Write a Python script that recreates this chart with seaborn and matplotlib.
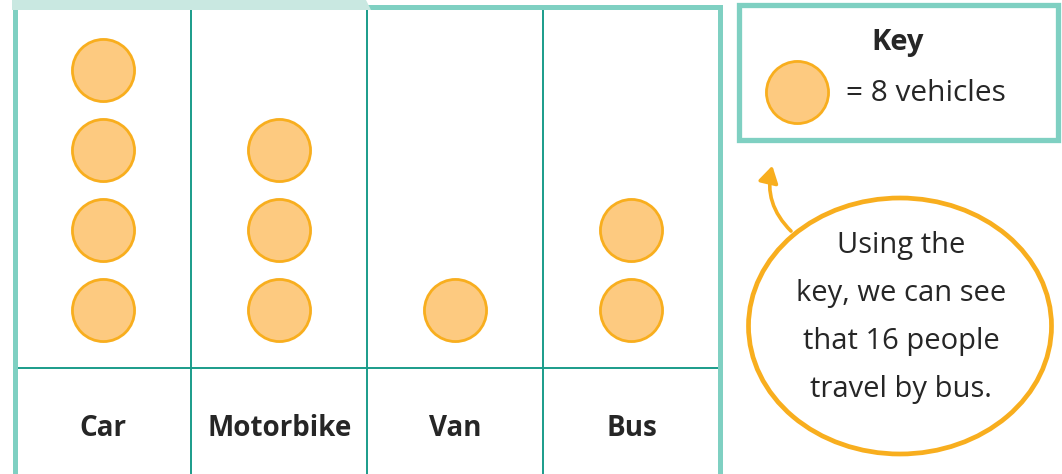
import pandas as pd
import seaborn as sns
import matplotlib.pyplot as plt
from matplotlib.patches import Rectangle, Ellipse, Polygon, FancyArrowPatch

# --- dados do pictograma ---
VEICULOS = ["Car", "Motorbike", "Van", "Bus"]
SIMBOLOS = [4, 3, 1, 2]          # numero de circulos por coluna
VALOR_CHAVE = 8                  # cada circulo = 8 veiculos

# --- cores ---
COR_CIRCULO = "#FDCA80"
COR_BORDA_CIRC = "#F8AE1E"
TEAL_CLARO = "#7FD0C2"
TEAL_ESCURO = "#1A9C8A"
TEAL_ABA = "#C9E8E1"
COR_TEXTO = "#262626"

W, H = 1062, 474

sns.set_style("white")
plt.rcParams["font.family"] = ["Open Sans", "DejaVu Sans"]

fig = plt.figure(figsize=(W / 100, H / 100), dpi=100)

# eixo principal (grade do pictograma), em unidades de "simbolo"
x0, x1 = 15, 719.5
y_top = 7
ax = fig.add_axes([x0 / W, 0, (x1 - x0) / W, (H - y_top) / H])

linhas = []
for v, n in zip(VEICULOS, SIMBOLOS):
    for i in range(n):
        linhas.append({"veiculo": v, "linha": i})
df = pd.DataFrame(linhas)
df["veiculo"] = pd.Categorical(df["veiculo"], categories=VEICULOS, ordered=True)

sns.scatterplot(data=df, x="veiculo", y="linha", s=2000, color=COR_CIRCULO,
                edgecolor=COR_BORDA_CIRC, linewidth=2.0, legend=False, ax=ax, zorder=3)

ax.set_xlim(-0.5, len(VEICULOS) - 0.5)
ax.set_ylim((310 - H) / 80, (310 - y_top) / 80)
ax.set_xticks([])
ax.set_yticks([])
ax.set_xlabel("")
ax.set_ylabel("")

for k in range(1, len(VEICULOS)):
    ax.axvline(k - 0.5, color=TEAL_ESCURO, lw=1.4, zorder=1)
y_div = (310 - 368) / 80
ax.axhline(y_div, color=TEAL_ESCURO, lw=1.4, zorder=1)

for k, v in enumerate(VEICULOS):
    ax.text(k, (310 - 428) / 80, v, ha="center", va="center", fontsize=20,
            fontweight="bold", color=COR_TEXTO)

for lado in ["left", "right", "top"]:
    ax.spines[lado].set_color(TEAL_CLARO)
    ax.spines[lado].set_linewidth(3.6)
ax.spines["bottom"].set_visible(False)

# eixo de sobreposicao em pixels para chave, aba e balao
ov = fig.add_axes([0, 0, 1, 1])
ov.set_xlim(0, W)
ov.set_ylim(H, 0)
ov.axis("off")
ov.patch.set_alpha(0)

# aba do titulo (cortada no topo)
ov.add_patch(Polygon([(12, 0), (366, 0), (371, 10), (12, 10)], closed=True,
                     facecolor=TEAL_ABA, edgecolor="none", zorder=2))

# caixa da chave
ov.add_patch(Rectangle((738.5, 5), 319, 135, facecolor="white",
                       edgecolor=TEAL_CLARO, lw=3.8, zorder=2))
ov.text(898, 42, "Key", ha="center", va="center", fontsize=21,
        fontweight="bold", color=COR_TEXTO)
ov.scatter([797], [92], s=2000, color=COR_CIRCULO, edgecolor=COR_BORDA_CIRC,
           linewidth=2.0, zorder=3)
ov.text(846, 93, f"= {VALOR_CHAVE} vehicles", ha="left", va="center",
        fontsize=21.5, color=COR_TEXTO)

# balao explicativo
ov.add_patch(Ellipse((900, 326), 303, 256, facecolor="white",
                     edgecolor=COR_BORDA_CIRC, lw=3.4, zorder=2))
seta = FancyArrowPatch((793, 233), (773, 163), connectionstyle="arc3,rad=-0.3",
                       arrowstyle="-|>,head_length=10,head_width=6",
                       color=COR_BORDA_CIRC, lw=2.6, zorder=3)
ov.add_patch(seta)

n_bus = SIMBOLOS[VEICULOS.index("Bus")]
texto = ["Using the", "key, we can see", f"that {n_bus * VALOR_CHAVE} people",
         "travel by bus."]
for j, t in enumerate(texto):
    ov.text(901, 246 + 48 * j, t, ha="center", va="center", fontsize=21,
            color=COR_TEXTO)

plt.savefig("out.png", dpi=100)
